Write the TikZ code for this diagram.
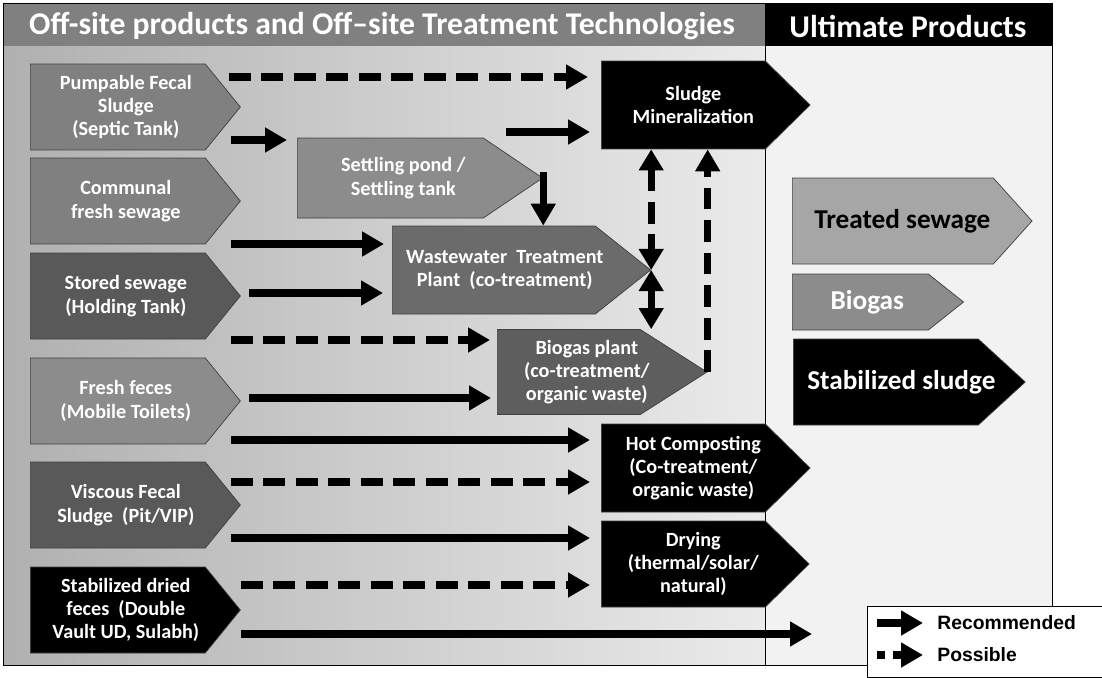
\documentclass[tikz,border=0pt]{standalone}
\usepackage{fontspec}
\setmainfont{Carlito}
\newfontfamily\legendfont{Liberation Sans}
\usetikzlibrary{arrows.meta, shapes.symbols, calc, positioning}
\definecolor{hdrgray}{HTML}{808080}
\definecolor{panelright}{HTML}{F2F2F2}
\definecolor{midgray}{HTML}{808080}
\definecolor{litegray}{HTML}{8C8C8C}
\definecolor{darkgray}{HTML}{595959}
\definecolor{wwtpgray}{HTML}{6B6B6B}
\definecolor{biopgray}{HTML}{5E5E5E}
\definecolor{palegray}{HTML}{A6A6A6}
\tikzstyle{recflow} = [line width=4pt, -{Triangle[length=12.5pt,width=13.5pt]}]
\tikzstyle{posflow} = [recflow, dash pattern=on 12.5pt off 6pt]
\tikzstyle{twoway} = [{Triangle[length=12pt,width=13.5pt]}-{Triangle[length=12pt,width=13.5pt]}]
\tikzstyle{textshift} = [execute at begin node={\advance\leftskip by #1\advance\rightskip by -#1}]
\tikzstyle{box} = [signal, signal to=east, draw=black!75, thin, text=white, align=flush center, inner xsep=0pt, inner ysep=0pt, minimum width=0pt, anchor=west, font=\bfseries\fontsize{11.5}{13.3}\selectfont]
\tikzstyle{srcbox} = [box, text width=3.5cm, minimum height=1.72cm, signal pointer angle=101.7, textshift=0.16cm]
\tikzstyle{techbox} = [box, text width=3.28cm, minimum height=1.76cm, signal pointer angle=89, textshift=0.2cm]
\tikzstyle{prodbox} = [box, font=\bfseries\fontsize{15.5}{18}\selectfont]

\begin{document}
\begin{tikzpicture}[x=0.02cm, y=-0.02cm]
    \useasboundingbox (0,0) rectangle (1102,677);

    % panels and headers
    \shade[left color=black!31, right color=black!8] (3,46) rectangle (765,665);
    \fill[panelright] (765,46) rectangle (1052,665);
    \fill[hdrgray] (3,3) rectangle (765,46);
    \fill[black] (765,3) rectangle (1052,46);
    \draw[thin] (3,3) rectangle (1052,665);
    \draw[thin] (765,46) -- (765,665);
    \node[text=white, font=\bfseries\fontsize{18}{21}\selectfont] (title) at (382,26) {Off-site products and Off--site Treatment Technologies};
    \node[text=white, font=\bfseries\fontsize{18}{21}\selectfont] (ultimate) at (908,26) {Ultimate Products};

    % off-site products
    \node[srcbox, fill=midgray] (pump) at (30,107) {Pumpable Fecal\\Sludge\\(Septic Tank)};
    \node[srcbox, fill=midgray] (comm) at (30,201) {Communal\\fresh sewage};
    \node[srcbox, fill=darkgray] (stored) at (30,296) {Stored sewage\\(Holding Tank)};
    \node[srcbox, fill=litegray] (fresh) at (30,401) {Fresh feces\\(Mobile Toilets)};
    \node[srcbox, fill=darkgray] (visc) at (30,505) {Viscous Fecal\\Sludge~ (Pit/VIP)};
    \node[srcbox, fill=black] (stab) at (30,610) {Stabilized dried\\feces~ (Double\\Vault UD, Sulabh)};

    % treatment technologies
    \node[box, fill=litegray, text width=3.72cm, minimum height=1.6cm, signal pointer angle=68, textshift=0.26cm] (settle) at (297,178) {Settling pond /\\Settling tank};
    \node[box, fill=wwtpgray, text width=4.06cm, minimum height=1.76cm, signal pointer angle=77, textshift=0.22cm] (wwtp) at (392,270) {Wastewater~ Treatment\\Plant~ (co-treatment)};
    \node[box, fill=biopgray, text width=2.86cm, minimum height=1.7cm, signal pointer angle=65, textshift=0.36cm] (biop) at (497,372) {Biogas plant\\(co-treatment/\\organic waste)};
    \node[techbox, fill=black] (mineral) at (601,105) {Sludge\\Mineralization};
    \node[techbox, fill=black] (hotc) at (601,468) {Hot Composting\\(Co-treatment/\\organic waste)};
    \node[techbox, fill=black, minimum height=1.72cm] (dry) at (601,564) {Drying\\(thermal/solar/\\natural)};

    % ultimate products
    \node[prodbox, fill=palegray, text=black, minimum height=1.72cm, signal pointer angle=96] (treated) at (792,221) {\makebox[4.02cm]{\hspace*{0.38cm}Treated sewage}};
    \node[prodbox, fill=litegray, minimum height=1.12cm, signal pointer angle=77] (biogas) at (792,302) {\makebox[2.72cm]{\hspace*{0.28cm}Biogas}};
    \node[prodbox, fill=black, minimum height=1.72cm, signal pointer angle=85] (stabsl) at (793,382) {\makebox[3.7cm]{\hspace*{0.62cm}Stabilized sludge}};

    % flows
    \draw[posflow] ($(pump.east |- 0,77)+(-12,0)$) -- ($(mineral.west |- 0,77)+(-13,0)$);
    \draw[recflow] ($(pump.east |- 0,140)+(-10,0)$) -- ($(settle.west |- 0,140)+(-10,0)$);
    \draw[recflow] ($(settle.east |- 0,132)+(-37,0)$) -- ($(mineral.west |- 0,132)+(-11,0)$);
    \draw[recflow] ($(settle.east)+(0,-6)$) -- (settle.east |- wwtp.north);
    \draw[recflow] ($(comm.east |- 0,244)+(-10,0)$) -- ($(wwtp.west |- 0,244)+(-8,0)$);
    \draw[recflow] ($(stored.east |- 0,293)+(8,0)$) -- ($(wwtp.west |- 0,293)+(-9,0)$);
    \draw[posflow] ($(stored.east |- 0,340)+(-10,0)$) -- ($(biop.west |- 0,340)+(-7,0)$);
    \draw[recflow] ($(fresh.east |- 0,398)+(8,0)$) -- ($(biop.west |- 0,398)+(-6,0)$);
    \draw[recflow] ($(fresh.east |- 0,440)+(-10,0)$) -- ($(hotc.west |- 0,440)+(-11,0)$);
    \draw[posflow] ($(visc.east |- 0,482)+(-10,0)$) -- ($(hotc.west |- 0,482)+(-11,0)$);
    \draw[recflow] ($(visc.east |- 0,538)+(-10,0)$) -- ($(dry.west |- 0,538)+(-11,0)$);
    \draw[posflow] ($(stab.east |- 0,585)+(0,0)$) -- ($(dry.west |- 0,585)+(-11,0)$);
    \coordinate (beyond) at (812,634);
    \draw[recflow] (stab.east |- beyond) -- (beyond);

    % links between technologies
    \draw[posflow, twoway] (wwtp.east |- mineral.south) -- (wwtp.east);
    \draw[recflow, twoway] (wwtp.east) -- (wwtp.east |- biop.north);
    \draw[posflow] (biop.east) -- (biop.east |- mineral.south);

    % legend
    \node[draw, thin, fill=white, anchor=north west, minimum width=4.7cm, minimum height=1.42cm] (legend) at (867,606) {};
    \node[font=\legendfont\bfseries\fontsize{11}{13}\selectfont, anchor=west, inner sep=0pt] (lrec) at (937,623) {Recommended};
    \node[font=\legendfont\bfseries\fontsize{11}{13}\selectfont, anchor=west, inner sep=0pt] (lpos) at (937,655) {Possible};
    \coordinate (lrecstart) at (877,623);
    \coordinate (lposstart) at (877,655);
    \draw[recflow] (lrecstart) -- ($(lrec.west)+(-14,0)$);
    \draw[recflow, dash pattern=on 4.5pt off 4.5pt on 30pt] (lposstart) -- ($(lpos.west)+(-14,0)$);
\end{tikzpicture}
\end{document}
